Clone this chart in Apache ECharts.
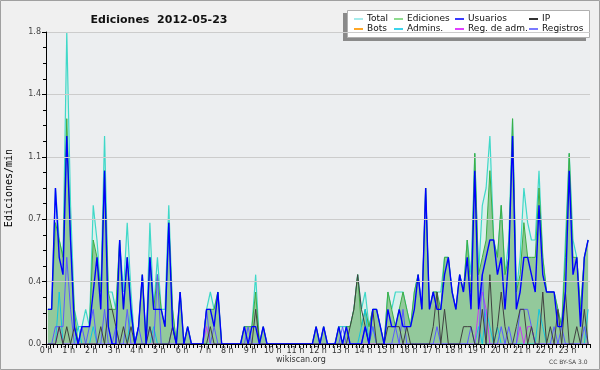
<!DOCTYPE html>
<html><head><meta charset="utf-8">
<script src="https://cdn.jsdelivr.net/npm/echarts@6/dist/echarts.min.js"></script>
<style>html,body{margin:0;padding:0;background:#f0f0f0}#c{width:600px;height:370px}</style>
</head><body><div id="c"></div>
<script>
const chartTitle = 'Ediciones  2012-05-23';
const yName = 'Ediciones/min';
const hourLabels = ['0 h','1 h','2 h','3 h','4 h','5 h','6 h','7 h','8 h','9 h','10 h','11 h','12 h','13 h','14 h','15 h','16 h','17 h','18 h','19 h','20 h','21 h','22 h','23 h'];
const slotsPerHour = 6; // 10-minute slots

const total = [
 .2,.2,.9,.6,.5,1.8,  .8,.2,.1,.1,.2,.1,  .8,.6,.3,1.2,.3,.3,  .2,.6,.3,.7,.3,0,
 .1,.4,0,.7,.2,.5,  .2,.2,.8,.2,0,.3,  0,.1,0,0,0,0,  .2,.3,.2,.3,0,0,
 0,0,0,0,.1,.1,  .1,.4,0,.1,0,0,  0,0,0,0,0,0,  0,0,0,0,0,.1,
 0,.1,0,0,0,.1,  .1,.1,.1,.2,.4,.2,  .3,.1,.2,.2,.1,0,  .3,.2,.3,.3,.3,.2,
 .1,.3,.4,.2,.9,.2,  .3,.3,.3,.5,.5,.3,  .2,.4,.3,.6,.4,1.1,  .4,.8,.9,1.2,.6,.5,
 .8,.4,.6,1.3,.3,.5,  .9,.7,.6,.6,1.0,.5,  .3,.3,.3,.2,.1,.6,  1.1,.6,.5,.2,.5,.6
];
const ediciones = [
 .2,.2,.7,.6,.5,1.3,  .6,.2,0,.1,.1,.1,  .6,.5,.3,1.0,.3,.2,  .2,.6,.2,.5,.2,0,
 .1,.4,0,.5,.2,.4,  .2,.1,.7,.2,0,.3,  0,.1,0,0,0,0,  .2,.2,.2,.3,0,0,
 0,0,0,0,.1,.1,  .1,.3,0,.1,0,0,  0,0,0,0,0,0,  0,0,0,0,0,.1,
 0,.1,0,0,0,.1,  0,.1,.1,.2,.4,.1,  .2,.1,.2,.2,.1,0,  .3,.2,.1,.2,.3,.2,
 .1,.3,.4,.2,.9,.2,  .3,.3,.2,.5,.5,.3,  .2,.4,.3,.6,.3,1.1,  .4,.5,.6,1.0,.6,.5,
 .8,.4,.5,1.3,.3,.4,  .7,.5,.5,.5,.9,.5,  .3,.3,.3,.2,.1,.5,  1.1,.5,.5,.2,.5,.6
];
const usuarios = [
 .2,.2,.9,.5,.4,1.2,  .6,.1,0,.1,.1,.1,  .3,.5,.2,1.0,.1,0,  0,.6,.2,.5,.2,0,
 .1,.4,0,.5,.2,.2,  .2,.1,.7,.1,0,.3,  0,.1,0,0,0,0,  .2,.2,.1,.3,0,0,
 0,0,0,0,.1,0,  .1,.1,0,.1,0,0,  0,0,0,0,0,0,  0,0,0,0,0,.1,
 0,.1,0,0,0,.1,  0,.1,0,0,0,0,  .1,0,.2,.2,.1,0,  .2,.1,.1,.2,.1,.1,
 .1,.2,.4,.2,.9,.2,  .3,.2,.2,.4,.5,.3,  .2,.4,.3,.5,.2,1.0,  .2,.4,.5,.6,.6,.4,
 .5,.2,.5,1.2,.2,.3,  .5,.5,.4,.3,.8,.4,  .3,.3,.3,.1,.1,.3,  1.0,.4,.5,.1,.5,.6
];
const ip = [
 0,0,0,.1,0,.1,  0,.1,0,0,0,0,  0,0,.1,0,.2,.2,  .1,0,.1,0,.1,0,
 0,0,0,.1,0,0,  0,0,0,.1,0,0,  0,0,0,0,0,0,  0,.1,0,0,0,0,
 0,0,0,0,0,0,  0,.2,0,0,0,0,  0,0,0,0,0,0,  0,0,0,0,0,0,
 0,0,0,0,0,0,  0,0,.1,.2,.4,.2,  .1,0,.2,0,0,0,  .1,.1,.1,.1,0,.1,
 0,0,0,0,0,0,  .1,.3,0,.2,0,0,  0,0,.1,.1,.1,0,  0,.2,0,.4,0,.1,
 .3,.1,0,0,.1,.2,  .2,0,.1,0,0,.3,  0,.1,0,.2,0,.3,  0,0,.1,0,.2,0
];
const bots = [
 0,0,0,0,0,0,  0,0,0,0,0,0,  0,0,0,0,0,0,  0,0,0,0,0,0,
 0,0,0,0,0,0,  0,0,0,0,0,0,  0,0,0,0,0,0,  0,0,0,0,0,0,
 0,0,0,0,0,0,  0,0,0,0,0,0,  0,0,0,0,0,0,  0,0,0,0,0,0,
 0,0,0,0,0,0,  0,0,0,0,0,0,  0,0,0,0,0,0,  0,0,0,0,0,0,
 0,0,0,0,0,0,  0,0,0,0,0,0,  0,0,0,0,0,0,  0,0,0,0,0,0,
 0,0,0,0,0,0,  0,0,0,0,0,0,  0,0,0,0,0,0,  0,0,0,0,0,0
];
const admins = [
 0,0,0,.3,0,0,  0,0,.1,0,0,0,  .1,0,0,0,0,0,  0,0,0,0,.2,0,
 0,0,0,0,.1,0,  0,0,0,0,0,0,  0,0,0,0,0,0,  0,0,0,0,0,0,
 0,0,0,0,0,0,  0,0,0,0,0,0,  0,0,0,0,0,0,  0,0,0,0,0,0,
 0,0,0,0,0,0,  0,0,0,0,0,.1,  .2,0,.1,0,0,0,  0,0,0,0,0,0,
 0,0,0,0,0,0,  0,0,0,0,0,0,  0,0,0,0,0,0,  .1,0,.2,.1,0,.1,
 0,0,0,0,0,0,  0,0,0,0,.2,.1,  0,0,0,0,0,0,  0,0,0,0,0,.2
];
const regAdm = [
 0,0,0,.1,0,0,  0,0,0,0,0,0,  0,0,0,0,0,0,  0,0,0,0,0,0,
 0,0,0,0,0,0,  0,0,0,0,0,0,  0,0,0,0,0,0,  .1,0,0,0,0,0,
 0,0,0,0,0,0,  0,0,0,0,0,0,  0,0,0,0,0,0,  0,0,0,0,0,0,
 0,0,0,0,0,0,  0,0,0,0,0,0,  0,0,0,0,0,0,  0,0,0,0,0,0,
 0,0,0,0,0,0,  0,0,0,0,0,0,  0,0,0,0,0,0,  .2,.3,.2,0,0,0,
 0,0,0,0,0,.1,  0,.1,.1,0,0,0,  0,0,0,0,0,0,  0,0,0,0,0,0
];
const registros = [
 0,0,.1,.1,.1,.5,  .2,0,0,.1,0,.1,  .2,0,0,.2,0,0,  .1,0,0,.2,0,0,
 .1,0,0,.1,0,.4,  0,0,0,.1,0,0,  0,0,0,0,0,0,  .2,0,.1,0,0,0,
 0,0,0,0,0,.1,  0,0,0,0,0,0,  0,0,0,0,0,0,  0,0,0,0,0,0,
 0,0,0,0,0,0,  .1,0,0,0,0,0,  .1,0,.1,0,0,0,  0,0,.1,0,.2,0,
 0,0,0,0,0,0,  0,.1,0,0,0,0,  0,0,0,0,.1,0,  0,.4,0,0,0,0,
 .1,0,.1,0,0,.2,  .2,.2,.1,0,0,0,  0,0,.1,0,.1,0,  0,0,0,0,.1,0
];

function pts(arr){ return arr.map((v,i)=>[(i+0.5)/slotsPerHour, v]); }

const FONT = 'DejaVu Sans';
function lineSeries(name, data, color, width, z, area){
  const s = {name, type:'line', data:pts(data), color, symbol:'none', z,
    lineStyle:{color, width}, emphasis:{disabled:true}};
  if(area) s.areaStyle = {color:area, opacity:1};
  return s;
}

const chart = echarts.init(document.getElementById('c'), null, {renderer:'canvas'});
const legendBase = {orient:'vertical', top:14, padding:0, itemGap:0, itemWidth:9, itemHeight:2, icon:'rect',
  textStyle:{fontFamily:FONT, fontSize:9, color:'#111', lineHeight:10, padding:[0,0,0,-1]}, selectedMode:false, z:10};
chart.setOption({
  animation:false,
  backgroundColor:'#f0f0f0',
  title:{text:chartTitle, left:154, top:10, textAlign:'center',
    textStyle:{fontFamily:FONT, fontWeight:'bold', fontSize:11, color:'#111'}},
  legend:[
    Object.assign({}, legendBase, {left:354, data:[{name:'Total', itemStyle:{color:'#a6ecec'}},{name:'Bots', itemStyle:{color:'#ffa726'}}]}),
    Object.assign({}, legendBase, {left:394, data:[{name:'Ediciones', itemStyle:{color:'#8fdc8f'}},{name:'Admins.', itemStyle:{color:'#3cd4ec'}}]}),
    Object.assign({}, legendBase, {left:455, data:[{name:'Usuarios', itemStyle:{color:'#3a3aff'}},{name:'Reg. de adm.', itemStyle:{color:'#e040ff'}}]}),
    Object.assign({}, legendBase, {left:529, data:[{name:'IP', itemStyle:{color:'#333333'}},{name:'Registros', itemStyle:{color:'#7a7aff'}}]})
  ],
  grid:{left:46, right:10, top:32, bottom:26, show:true, backgroundColor:'#eceef0', borderWidth:0, containLabel:false, outerBoundsMode:'none'},
  xAxis:{type:'value', min:0, max:24, interval:1, z:10,
    axisLine:{lineStyle:{color:'#000', width:1}},
    axisTick:{show:true, length:4, lineStyle:{color:'#000'}},
    minorTick:{show:true, splitNumber:6, length:4, lineStyle:{color:'#000'}},
    splitLine:{show:false},
    axisLabel:{formatter:v => v < 24 ? hourLabels[v] : '', fontFamily:FONT, fontSize:8, color:'#333', margin:3, showMaxLabel:false}},
  yAxis:{type:'value', min:0, max:1.8, interval:0.36, z:10,
    name:yName, nameLocation:'middle', nameGap:32,
    nameTextStyle:{fontFamily:'DejaVu Sans Mono', fontSize:10, color:'#000'},
    axisLine:{show:true, lineStyle:{color:'#000'}},
    axisTick:{show:true, length:4, lineStyle:{color:'#000'}},
    minorTick:{show:true, splitNumber:4, length:3, lineStyle:{color:'#000'}},
    splitLine:{show:true, lineStyle:{color:'#cccccc'}},
    axisLabel:{formatter:v => v.toFixed(1), fontFamily:FONT, fontSize:8, color:'#444', margin:5}},
  graphic:[
    {type:'rect', z:0, shape:{x:0.5,y:0.5,width:599,height:369}, style:{fill:'none', stroke:'#a0a0a0', lineWidth:1}},
    {type:'rect', z:1, shape:{x:343,y:13,width:243,height:28}, style:{fill:'#8a8a8a'}},
    {type:'rect', z:2, shape:{x:347.5,y:10.5,width:242,height:27}, style:{fill:'#ffffff', stroke:'#b0b0b0', lineWidth:1}},
    {type:'text', z:2, left:276, top:356, style:{text:'wikiscan.org', font:'8px "DejaVu Sans"', fill:'#333'}},
    {type:'text', z:2, left:549, top:359, style:{text:'CC BY-SA 3.0', font:'6px "DejaVu Sans"', fill:'#444'}}
  ],
  series:[
    lineSeries('Total', total, '#3fd8c8', 1.2, 2, '#daf0eb'),
    lineSeries('Ediciones', ediciones, '#3cae44', 1, 3, '#93c99b'),
    lineSeries('Bots', bots, '#ffa726', 1, 1),
    lineSeries('Admins.', admins, '#10c4e0', 1, 5),
    lineSeries('Reg. de adm.', regAdm, '#c83cf0', 1, 6),
    lineSeries('Registros', registros, '#5a5aff', 1, 7),
    lineSeries('IP', ip, '#404040', 1, 8),
    lineSeries('Usuarios', usuarios, '#0000ff', 1.4, 9)
  ]
});
</script></body></html>
